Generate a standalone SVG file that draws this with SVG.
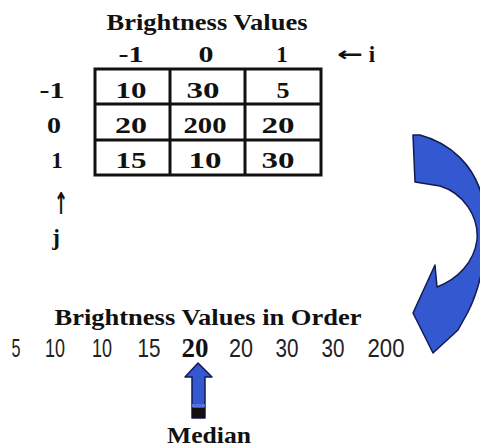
<svg xmlns="http://www.w3.org/2000/svg" width="480" height="447" viewBox="0 0 480 447">
<style>
.b{font-family:"Liberation Serif","Times New Roman",serif;font-weight:bold;font-size:23px;fill:#111;text-anchor:middle}
.n{font-family:"Liberation Sans",Arial,sans-serif;font-size:26px;fill:#222;text-anchor:middle}
.ar{font-family:"DejaVu Sans",sans-serif;font-weight:bold;fill:#111;text-anchor:middle}
.grid{fill:none;stroke:#111;stroke-width:3}
.blue{fill:#3358d0;stroke:#141a50;stroke-width:1.5;stroke-linejoin:round}
</style>
<rect width="480" height="447" fill="#fff"/>
<g id="title"><text class="b" x="207" y="30" textLength="201" lengthAdjust="spacingAndGlyphs" style="font-size:24px">Brightness Values</text></g>
<g id="col-headers">
<text class="b" x="131" y="62" textLength="25" lengthAdjust="spacingAndGlyphs">-1</text>
<text class="b" x="206" y="62" textLength="15" lengthAdjust="spacingAndGlyphs">0</text>
<text class="b" x="282" y="62">1</text>
<text class="ar" x="350" y="61" style="font-size:20px" textLength="26" lengthAdjust="spacingAndGlyphs">←</text>
<text class="b" x="372" y="62">i</text>
</g>
<g id="row-headers">
<text class="b" x="52" y="98" textLength="25" lengthAdjust="spacingAndGlyphs">-1</text>
<text class="b" x="54" y="133" textLength="14" lengthAdjust="spacingAndGlyphs">0</text>
<text class="b" x="57" y="168">1</text>
<text class="ar" x="61" y="214" style="font-size:30px" textLength="14" lengthAdjust="spacingAndGlyphs">↑</text>
<text class="b" x="56" y="245">j</text>
</g>
<g id="table">
<rect class="grid" x="95" y="69" width="226" height="106"/>
<line class="grid" x1="170" y1="69" x2="170" y2="175"/>
<line class="grid" x1="245" y1="69" x2="245" y2="175"/>
<line class="grid" x1="95" y1="104" x2="321" y2="104"/>
<line class="grid" x1="95" y1="140" x2="321" y2="140"/>
<text class="b" x="131" y="98" textLength="31" lengthAdjust="spacingAndGlyphs">10</text>
<text class="b" x="203" y="98" textLength="33" lengthAdjust="spacingAndGlyphs">30</text>
<text class="b" x="283" y="98" textLength="13" lengthAdjust="spacingAndGlyphs">5</text>
<text class="b" x="131" y="133" textLength="32" lengthAdjust="spacingAndGlyphs">20</text>
<text class="b" x="205" y="133" textLength="43" lengthAdjust="spacingAndGlyphs">200</text>
<text class="b" x="278" y="133" textLength="33" lengthAdjust="spacingAndGlyphs">20</text>
<text class="b" x="131" y="168" textLength="31" lengthAdjust="spacingAndGlyphs">15</text>
<text class="b" x="205" y="168" textLength="33" lengthAdjust="spacingAndGlyphs">10</text>
<text class="b" x="278" y="168" textLength="33" lengthAdjust="spacingAndGlyphs">30</text>
</g>
<g id="connectors">
<path id="curved-arrow" class="blue" d="M413,135 L420,135 C450,143 475,165 483,200 C490,235 484,280 468,312 L458,330 L433,353 L413,313 L435,265 L437,287 C458,279 474,262 477,240 C479,216 463,193 440,186 L415,182 Z"/>
<g id="median-arrow">
<path class="blue" d="M198,363 L212,377 L205,377 L205,418 L192,418 L192,377 L185,377 Z"/>
<rect x="192" y="404" width="13" height="3" fill="#5a6fe0"/>
<rect x="192" y="408" width="13" height="10" fill="#111"/>
</g>
</g>
<g id="ordered">
<text class="b" x="208" y="325" textLength="307" lengthAdjust="spacingAndGlyphs" style="font-size:24px">Brightness Values in Order</text>
<text class="n" x="16" y="357" textLength="9" lengthAdjust="spacingAndGlyphs">5</text>
<text class="n" x="55" y="357" textLength="20" lengthAdjust="spacingAndGlyphs">10</text>
<text class="n" x="102" y="357" textLength="20" lengthAdjust="spacingAndGlyphs">10</text>
<text class="n" x="149" y="357" textLength="23" lengthAdjust="spacingAndGlyphs">15</text>
<text class="b" x="195" y="357" style="font-size:27px">20</text>
<text class="n" x="241" y="357" textLength="24" lengthAdjust="spacingAndGlyphs">20</text>
<text class="n" x="287" y="357" textLength="23" lengthAdjust="spacingAndGlyphs">30</text>
<text class="n" x="333" y="357" textLength="23" lengthAdjust="spacingAndGlyphs">30</text>
<text class="n" x="386" y="357" textLength="37" lengthAdjust="spacingAndGlyphs">200</text>
</g>
<g id="median-label"><text class="b" x="209" y="443" textLength="84" lengthAdjust="spacingAndGlyphs">Median</text></g>
</svg>
